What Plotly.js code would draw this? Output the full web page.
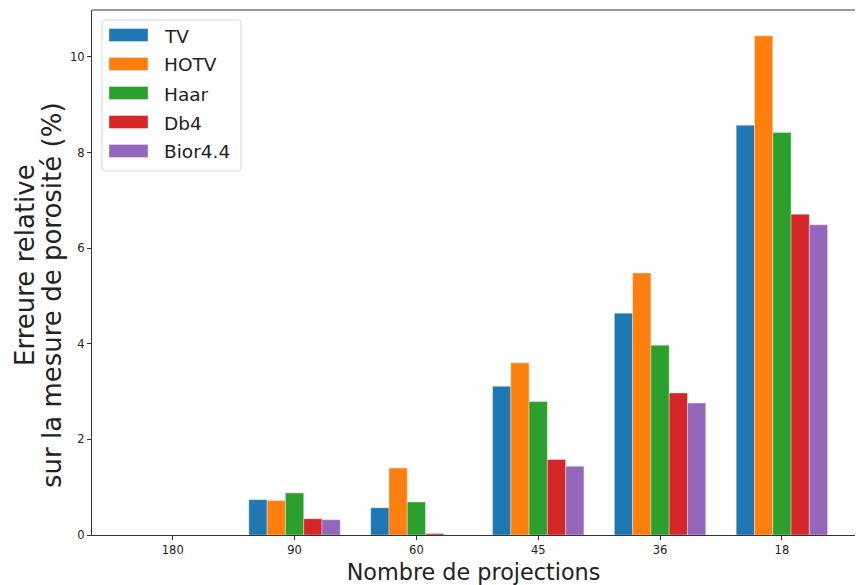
<!DOCTYPE html>
<html>
<head>
<meta charset="utf-8">
<script src="https://cdn.plot.ly/plotly-3.0.1.min.js"></script>
<style>html,body{margin:0;padding:0;background:#fff;}#chart{width:856px;height:585px;}</style>
</head>
<body>
<div id="chart"></div>
<script>
const categories = ["180", "90", "60", "45", "36", "18"];
const seriesNames = ["TV", "HOTV", "Haar", "Db4", "Bior4.4"];
const tv    = [0, 0.74, 0.57, 3.11, 4.64, 8.57];
const hotv  = [0, 0.72, 1.40, 3.60, 5.48, 10.44];
const haar  = [0, 0.88, 0.69, 2.79, 3.97, 8.42];
const db4   = [0, 0.34, 0.03, 1.58, 2.97, 6.71];
const bior  = [0, 0.32, 0.00, 1.44, 2.76, 6.49];
const colors = ["#1f77b4", "#ff7f0e", "#2ca02c", "#d62728", "#9467bd"];
const yTicks = [0, 2, 4, 6, 8, 10];
const yTitleLines = ["Erreure relative", "sur la mesure de porosité (%)"];
const xTitle = "Nombre de projections";

const allValues = [tv, hotv, haar, db4, bior];
const traces = allValues.map((vals, i) => ({
  type: "bar",
  name: seriesNames[i],
  x: categories,
  y: vals,
  showlegend: false,
  marker: {color: colors[i], line: {color: "rgba(255,255,255,0.45)", width: 0.8}},
  hoverinfo: "x+y+name"
}));

// plot-area geometry (pixels)
const W = 856, H = 585, ML = 92, MR = 1, MT = 10, MB = 50;
const PW = W - ML - MR, PH = H - MT - MB;
const fx = p => (p - ML) / PW;
const fy = p => (H - MB - p) / PH;

const font = "DejaVu Sans, sans-serif";
const shapes = [
  {type: "line", xref: "paper", yref: "paper", x0: 0, x1: 1, y0: 1, y1: 1, line: {color: "#333", width: 1}}
];
const annotations = [];

// legend frame (rounded), matplotlib style
(function () {
  const x0 = 102, x1 = 241, y0 = 20, y1 = 171, r = 3;
  const P = (x, y) => fx(x) + "," + fy(y);
  const path = "M " + P(x0 + r, y0) + " L " + P(x1 - r, y0) + " Q " + P(x1, y0) + " " + P(x1, y0 + r) +
    " L " + P(x1, y1 - r) + " Q " + P(x1, y1) + " " + P(x1 - r, y1) +
    " L " + P(x0 + r, y1) + " Q " + P(x0, y1) + " " + P(x0, y1 - r) +
    " L " + P(x0, y0 + r) + " Q " + P(x0, y0) + " " + P(x0 + r, y0) + " Z";
  shapes.push({type: "path", xref: "paper", yref: "paper", path: path,
    fillcolor: "rgba(255,255,255,0.8)", line: {color: "#d6d6d6", width: 1}, layer: "above"});
})();
seriesNames.forEach((name, i) => {
  const cy = 35 + i * 29;
  shapes.push({type: "rect", xref: "paper", yref: "paper",
    x0: fx(109), x1: fx(148), y0: fy(cy - 6.5), y1: fy(cy + 6.5),
    fillcolor: colors[i], line: {color: "rgba(255,255,255,0.45)", width: 0.8}, layer: "above"});
  annotations.push({xref: "paper", yref: "paper", x: fx(162), y: fy(cy + 1),
    xanchor: "left", yanchor: "middle", text: name, showarrow: false,
    font: {family: font, size: 18.5, color: "#222"}});
});

// y-axis title, two lines
const yTitleX = [25, 52];
const yTitleY = [265, 295];
yTitleLines.forEach((t, i) => {
  annotations.push({xref: "paper", yref: "paper", x: fx(yTitleX[i]), y: fy(yTitleY[i]),
    xanchor: "center", yanchor: "middle", textangle: -90, text: t, showarrow: false,
    font: {family: font, size: 26, color: "#222"}});
});

const layout = {
  width: W, height: H,
  margin: {l: ML, r: MR, t: MT, b: MB, pad: 0},
  paper_bgcolor: "#fff", plot_bgcolor: "#fff",
  barmode: "group", bargap: 0.25, bargroupgap: 0,
  font: {family: font, color: "#222"},
  showlegend: false,
  xaxis: {
    type: "category", range: [-0.6625, 5.6],
    showline: true, linecolor: "#333", linewidth: 1,
    ticks: "outside", ticklen: 4, tickcolor: "#333",
    tickfont: {family: font, size: 11.5, color: "#222"},
    showgrid: false, zeroline: false,
    title: {text: xTitle, font: {family: font, size: 22.3, color: "#222"}, standoff: 8}
  },
  yaxis: {
    range: [0, 10.98],
    tickvals: yTicks, ticktext: yTicks.map(String),
    showline: true, linecolor: "#333", linewidth: 1,
    ticks: "outside", ticklen: 4, tickcolor: "#333",
    tickfont: {family: font, size: 11.5, color: "#222"},
    showgrid: false, zeroline: false
  },
  shapes: shapes,
  annotations: annotations
};

Plotly.newPlot("chart", traces, layout, {displayModeBar: false, staticPlot: true});
</script>
</body>
</html>
